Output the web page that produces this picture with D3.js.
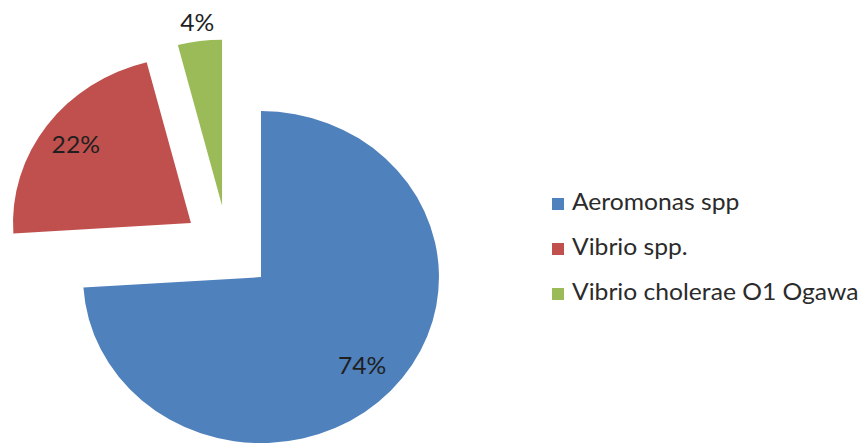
<!DOCTYPE html>
<html><head><meta charset="utf-8">
<script src="https://cdn.jsdelivr.net/npm/d3@7"></script>
<style>html,body{margin:0;padding:0;background:#fff;}svg{display:block;}</style>
</head><body>
<svg id="chart" width="860" height="443"></svg>
<script>
const categories = ["Aeromonas spp", "Vibrio spp.", "Vibrio cholerae O1 Ogawa"];
const values = [74, 22, 4];
const labels = ["74%", "22%", "4%"];
const colors = ["#4F81BD", "#C0504D", "#9BBB59"];

const W = 860, H = 443;
const sx = 1.072;           // reference is stretched horizontally
const cx = 212.5, cy = 248, R = 166, explode = 42.5;
const labelR = [0.78, 0.80, 1.11];
const font = "Lato, 'Open Sans', sans-serif";
const fs = 23;

const svg = d3.select("#chart");
const root = svg.append("g").attr("transform", `scale(${sx},1)`);

const pie = d3.pie().sort(null).value(d => d)(values);
const arc = d3.arc().innerRadius(0).outerRadius(R);

const slices = root.append("g").attr("transform", `translate(${cx},${cy})`);
pie.forEach((p, i) => {
  const mid = (p.startAngle + p.endAngle) / 2;
  const ox = explode * Math.sin(mid), oy = -explode * Math.cos(mid);
  const g = slices.append("g").attr("transform", `translate(${ox},${oy})`);
  g.append("path").attr("d", arc(p)).attr("fill", colors[i]);
  const lr = R * labelR[i];
  g.append("text")
    .attr("x", lr * Math.sin(mid))
    .attr("y", -lr * Math.cos(mid) + 8)
    .attr("text-anchor", "middle")
    .attr("font-family", font)
    .attr("font-size", fs)
    .attr("fill", "#1f1f1f")
    .text(labels[i]);
});

const legend = root.append("g").attr("transform", `translate(${552/sx},210)`);
categories.forEach((c, i) => {
  const row = legend.append("g").attr("transform", `translate(0,${i * 45})`);
  row.append("rect").attr("x", 0).attr("y", -12).attr("width", 12 / sx).attr("height", 12).attr("fill", colors[i]);
  row.append("text").attr("x", 20 / sx).attr("y", 0)
    .attr("font-family", font).attr("font-size", fs).attr("fill", "#2b2b2b")
    .text(c);
});
</script>
</body></html>
